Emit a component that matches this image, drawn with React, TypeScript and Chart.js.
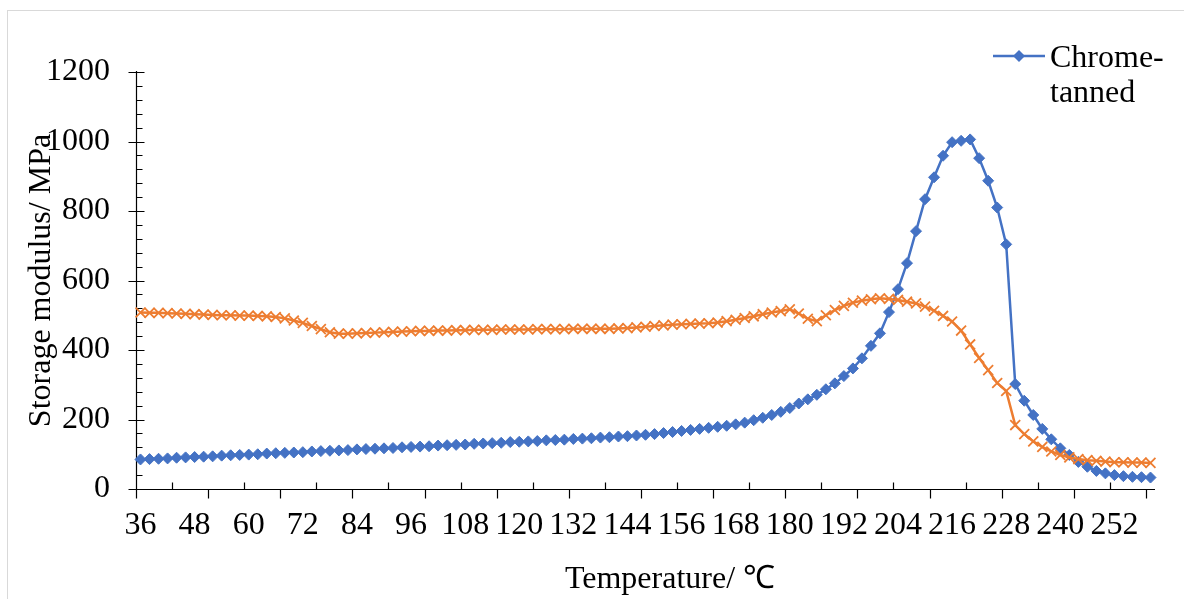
import React, { useEffect, useRef } from 'react';
import { Chart, registerables } from 'chart.js';

Chart.register(...registerables);

const temperatures = [
  36, 38, 40, 42, 44, 46, 48, 50, 52, 54, 56, 58, 60, 62, 64, 66, 68, 70, 72, 74,
  76, 78, 80, 82, 84, 86, 88, 90, 92, 94, 96, 98, 100, 102, 104, 106, 108, 110, 112, 114,
  116, 118, 120, 122, 124, 126, 128, 130, 132, 134, 136, 138, 140, 142, 144, 146, 148, 150, 152, 154,
  156, 158, 160, 162, 164, 166, 168, 170, 172, 174, 176, 178, 180, 182, 184, 186, 188, 190, 192, 194,
  196, 198, 200, 202, 204, 206, 208, 210, 212, 214, 216, 218, 220, 222, 224, 226, 228, 230, 232, 234,
  236, 238, 240, 242, 244, 246, 248, 250, 252, 254, 256, 258, 260,
];

const chromeTanned = [
  85, 86, 87, 88, 90, 91, 92, 93, 94, 96, 97, 98, 99, 100, 102, 103, 104, 105, 106, 108,
  109, 110, 111, 112, 114, 115, 116, 117, 118, 120, 121, 122, 123, 125, 126, 127, 128, 130, 131, 132,
  133, 135, 136, 137, 138, 140, 141, 142, 144, 145, 146, 148, 149, 151, 152, 154, 156, 158, 161, 164,
  167, 170, 173, 176, 179, 182, 186, 191, 198, 205, 213, 222, 233, 246, 258, 271, 287, 304, 325, 347,
  376, 412, 448, 509, 575, 650, 742, 834, 897, 959, 998, 1002, 1006, 952, 887, 810, 704, 302, 254, 213,
  173, 143, 117, 98, 78, 64, 52, 45, 40, 37, 35, 34, 33,
];

const secondSeries = [
  508, 507, 507, 506, 505, 504, 503, 502, 501, 500, 500, 499, 499, 498, 497, 495, 491, 485, 478, 469,
  460, 451, 447, 447, 448, 449, 450, 451, 452, 453, 454, 455, 455, 456, 456, 457, 457, 458, 458, 458,
  459, 459, 459, 459, 460, 460, 460, 460, 461, 461, 461, 461, 461, 462, 463, 465, 467, 469, 471, 473,
  474, 475, 476, 477, 479, 483, 487, 492, 497, 503, 508, 512, 517, 505, 490, 483, 500, 515, 527, 536,
  542, 546, 549, 547, 544, 539, 534, 525, 513, 498, 482, 456, 416, 377, 342, 305, 282, 184, 158, 137,
  121, 108, 98, 91, 86, 83, 81, 79, 77, 77, 76, 76, 75,
];

const labelEvery = 6;
const yMin = 0;
const yMax = 1200;
const yStep = 200;
const yMinorStep = 40;
const yTitle = 'Storage modulus/ MPa';
const xTitle = 'Temperature/ \u2103';
const legendLines = ['Chrome-', 'tanned'];

const BLUE = '#4472C4';
const ORANGE = '#ED7D31';
const FONT_FAMILY = "'Liberation Serif', 'Times New Roman', serif";
const FONT_SIZE = 32;

const decoPlugin = {
  id: 'deco',
  beforeDraw(chart: any) {
    const ctx = chart.ctx;
    ctx.save();
    ctx.strokeStyle = '#d9d9d9';
    ctx.lineWidth = 1;
    ctx.strokeRect(7.5, 10.5, 1200, 700);
    ctx.restore();
  },
  beforeDatasetsDraw(chart: any) {
    const ctx = chart.ctx;
    const xs = chart.scales.x;
    const ys = chart.scales.y;
    const area = chart.chartArea;
    ctx.save();
    ctx.strokeStyle = '#000';
    ctx.lineWidth = 1.2;
    ctx.beginPath();
    const ax = Math.round(area.left) + 0.5;
    const ay = Math.round(area.bottom) + 0.5;
    ctx.moveTo(ax, area.top - 1);
    ctx.lineTo(ax, ay);
    ctx.lineTo(area.right, ay);
    for (let v = yMin; v <= yMax; v += yMinorStep) {
      const py = Math.round(ys.getPixelForValue(v)) + 0.5;
      if (v % yStep === 0) {
        ctx.moveTo(ax - 8, py);
        ctx.lineTo(ax + 8, py);
      } else {
        ctx.moveTo(ax, py);
        ctx.lineTo(ax + 6, py);
      }
    }
    const n = temperatures.length;
    for (let k = 0; k < n; k += 4) {
      const px = Math.round(xs.getPixelForValue(k - 0.5)) + 0.5;
      if (k % 8 === 0) {
        ctx.moveTo(px, ay);
        ctx.lineTo(px, ay + 9);
      } else {
        ctx.moveTo(px, ay);
        ctx.lineTo(px, ay - 7);
      }
    }
    ctx.stroke();
    ctx.restore();
  },
  afterDraw(chart: any) {
    const ctx = chart.ctx;
    const area = chart.chartArea;
    ctx.save();
    ctx.fillStyle = '#000';
    ctx.font = `${FONT_SIZE}px ${FONT_FAMILY}`;
    ctx.save();
    ctx.translate(42, (area.top + area.bottom) / 2);
    ctx.rotate(-Math.PI / 2);
    ctx.textAlign = 'center';
    ctx.textBaseline = 'middle';
    ctx.fillText(yTitle, 0, 0);
    ctx.restore();
    ctx.textAlign = 'center';
    ctx.textBaseline = 'alphabetic';
    ctx.fillText(xTitle, 670, 588);
    ctx.strokeStyle = BLUE;
    ctx.lineWidth = 2.5;
    ctx.beginPath();
    ctx.moveTo(993, 56);
    ctx.lineTo(1045, 56);
    ctx.stroke();
    ctx.fillStyle = BLUE;
    ctx.beginPath();
    ctx.moveTo(1019, 50);
    ctx.lineTo(1025, 56);
    ctx.lineTo(1019, 62);
    ctx.lineTo(1013, 56);
    ctx.closePath();
    ctx.fill();
    ctx.fillStyle = '#000';
    ctx.textAlign = 'left';
    ctx.fillText(legendLines[0], 1050, 67);
    ctx.fillText(legendLines[1], 1050, 102);
    ctx.restore();
  },
};

export default function App() {
  const canvasRef = useRef<HTMLCanvasElement | null>(null);

  useEffect(() => {
    const canvas = canvasRef.current;
    if (!canvas) return;
    const chart = new Chart(canvas, {
      type: 'line',
      data: {
        labels: temperatures.map(String),
        datasets: [
          {
            label: 'Chrome-tanned',
            data: chromeTanned,
            borderColor: BLUE,
            backgroundColor: BLUE,
            borderWidth: 2.5,
            pointStyle: 'rectRot',
            pointRadius: 5.5,
            pointBorderWidth: 1,
            pointBorderColor: BLUE,
            pointBackgroundColor: BLUE,
            tension: 0,
            order: 2,
          },
          {
            label: 'Series 2',
            data: secondSeries,
            borderColor: ORANGE,
            backgroundColor: ORANGE,
            borderWidth: 2.5,
            pointStyle: 'crossRot',
            pointRadius: 7,
            pointBorderWidth: 1.8,
            pointBorderColor: ORANGE,
            pointBackgroundColor: ORANGE,
            tension: 0,
            order: 1,
          },
        ],
      },
      options: {
        responsive: false,
        animation: false,
        devicePixelRatio: 1,
        layout: { padding: { left: 0, top: 72, right: 29, bottom: 0 } },
        plugins: {
          legend: { display: false },
          tooltip: { enabled: false },
        },
        scales: {
          x: {
            type: 'category',
            offset: true,
            grid: { display: false, drawTicks: false },
            border: { display: false },
            ticks: {
              autoSkip: false,
              maxRotation: 0,
              minRotation: 0,
              padding: 17,
              color: '#000',
              font: { family: FONT_FAMILY, size: FONT_SIZE },
              callback: (_v: any, i: number) => (i % labelEvery === 0 ? String(temperatures[i]) : ''),
            },
            afterFit: (scale: any) => {
              scale.height = 110;
            },
          },
          y: {
            min: yMin,
            max: yMax,
            grid: { display: false, drawTicks: false },
            border: { display: false },
            ticks: {
              stepSize: yStep,
              padding: 26,
              color: '#000',
              font: { family: FONT_FAMILY, size: FONT_SIZE },
              callback: (v: any) => String(v),
            },
            afterFit: (scale: any) => {
              scale.width = 136;
            },
          },
        },
      },
      plugins: [decoPlugin],
    });
    return () => chart.destroy();
  }, []);

  return (
    <div style={{ position: 'fixed', left: 0, top: 0, width: 1184, height: 599, background: '#fff' }}>
      <canvas ref={canvasRef} width={1184} height={599} style={{ display: 'block' }} />
    </div>
  );
}
